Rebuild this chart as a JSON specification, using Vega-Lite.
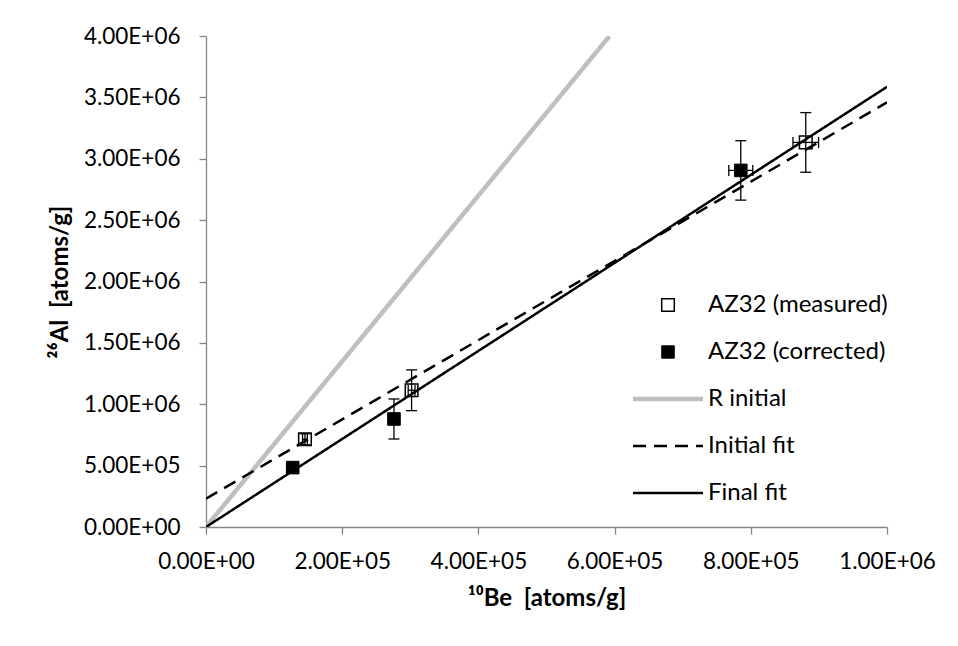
{
  "$schema": "https://vega.github.io/schema/vega-lite/v6.json",
  "width": 681,
  "height": 491,
  "autosize": {"type": "none"},
  "padding": {"left": 206, "top": 36, "right": 71, "bottom": 119},
  "background": "white",
  "config": {
    "view": {"stroke": null},
    "font": "Lato",
    "axis": {
      "grid": false,
      "domainColor": "#868686",
      "domainWidth": 1.3,
      "tickColor": "#868686",
      "tickWidth": 1.3,
      "tickSize": 7,
      "labelFont": "Lato",
      "labelFontSize": 22.5,
      "labelColor": "black",
      "labelOverlap": false,
      "labelFlush": false,
      "titleFont": "Lato",
      "titleFontSize": 24,
      "titleFontWeight": "bold",
      "titleColor": "black"
    },
    "legend": {
      "labelFont": "Lato",
      "labelFontSize": 24,
      "labelColor": "black",
      "labelLimit": 400
    }
  },
  "datasets": {
    "pts": [
      {"series": "AZ32 (measured)", "x": 145300, "y": 715000, "x_lo": 141800, "x_hi": 148800, "y_lo": 670000, "y_hi": 760000},
      {"series": "AZ32 (measured)", "x": 301900, "y": 1114000, "x_lo": 296900, "x_hi": 306900, "y_lo": 948000, "y_hi": 1280000},
      {"series": "AZ32 (measured)", "x": 880700, "y": 3133000, "x_lo": 861900, "x_hi": 899500, "y_lo": 2890000, "y_hi": 3376000},
      {"series": "AZ32 (corrected)", "x": 127300, "y": 484000, "x_lo": 123800, "x_hi": 130800, "y_lo": 444000, "y_hi": 524000},
      {"series": "AZ32 (corrected)", "x": 276000, "y": 880000, "x_lo": 271000, "x_hi": 281000, "y_lo": 717000, "y_hi": 1043000},
      {"series": "AZ32 (corrected)", "x": 785300, "y": 2905000, "x_lo": 767700, "x_hi": 802900, "y_lo": 2663000, "y_hi": 3147000}
    ],
    "lines": [
      {"series": "R initial", "x": 0, "y": 0},
      {"series": "R initial", "x": 592600, "y": 4000000},
      {"series": "Initial fit", "x": 0, "y": 231000},
      {"series": "Initial fit", "x": 1000000, "y": 3459000},
      {"series": "Final fit", "x": 0, "y": 0},
      {"series": "Final fit", "x": 1000000, "y": 3586000}
    ]
  },
  "layer": [
    {
      "data": {"name": "pts"},
      "mark": {"type": "point", "size": 49, "filled": true, "opacity": 1},
      "encoding": {
        "x": {
          "field": "x", "type": "quantitative",
          "scale": {"domain": [0, 1000000], "nice": false, "zero": false},
          "axis": {
            "values": [0, 200000, 400000, 600000, 800000, 1000000],
            "labelExpr": "replace(upper(format(datum.value, '.2e')), 'E+', 'E+0')",
            "labelPadding": 16,
            "titlePadding": 14,
            "title": "¹⁰Be\u00a0 [atoms/g]"
          }
        },
        "y": {
          "field": "y", "type": "quantitative",
          "scale": {"domain": [0, 4000000], "nice": false, "zero": false},
          "axis": {
            "values": [0, 500000, 1000000, 1500000, 2000000, 2500000, 3000000, 3500000, 4000000],
            "labelExpr": "replace(upper(format(datum.value, '.2e')), 'E+', 'E+0')",
            "labelPadding": 19,
            "titlePadding": 11,
            "title": "²⁶Al\u00a0 [atoms/g]"
          }
        },
        "shape": {
          "field": "series", "type": "nominal",
          "scale": {
            "domain": ["AZ32 (measured)", "AZ32 (corrected)", "R initial", "Initial fit", "Final fit"],
            "range": ["M-1.8,-1.8H1.8V1.8H-1.8Z", "M-1.8,-1.8H1.8V1.8H-1.8Z", "M-10,0H10", "M-10,0H10", "M-10,0H10"]
          },
          "legend": {
            "title": null,
            "orient": "none",
            "legendX": 450,
            "legendY": 257,
            "rowPadding": 23,
            "labelOffset": 28,
            "symbolSize": 49,
            "padding": 0
          }
        },
        "fill": {
          "field": "series", "type": "nominal",
          "scale": {
            "domain": ["AZ32 (measured)", "AZ32 (corrected)", "R initial", "Initial fit", "Final fit"],
            "range": ["white", "black", "transparent", "transparent", "transparent"]
          },
          "legend": {"title": null}
        },
        "stroke": {
          "field": "series", "type": "nominal",
          "scale": {
            "domain": ["AZ32 (measured)", "AZ32 (corrected)", "R initial", "Initial fit", "Final fit"],
            "range": ["black", "black", "#bfbfbf", "black", "black"]
          },
          "legend": {"title": null}
        },
        "strokeWidth": {
          "field": "series", "type": "nominal",
          "scale": {
            "type": "ordinal",
            "domain": ["AZ32 (measured)", "AZ32 (corrected)", "R initial", "Initial fit", "Final fit"],
            "range": [1.5, 1, 4.5, 2.5, 2.5]
          },
          "legend": {"title": null}
        }
      }
    },
    {
      "data": {"name": "pts"},
      "mark": {"type": "rule", "color": "black", "strokeWidth": 1.3},
      "encoding": {
        "x": {"field": "x", "type": "quantitative"},
        "y": {"field": "y_lo", "type": "quantitative"},
        "y2": {"field": "y_hi"}
      }
    },
    {
      "data": {"name": "pts"},
      "mark": {"type": "rule", "color": "black", "strokeWidth": 1.3},
      "encoding": {
        "y": {"field": "y", "type": "quantitative"},
        "x": {"field": "x_lo", "type": "quantitative"},
        "x2": {"field": "x_hi"}
      }
    },
    {
      "data": {"name": "pts"},
      "mark": {"type": "point", "shape": "M-1,0H1", "size": 121, "filled": false, "color": "black", "strokeWidth": 1.3, "opacity": 1},
      "encoding": {
        "x": {"field": "x", "type": "quantitative"},
        "y": {"field": "y_lo", "type": "quantitative"}
      }
    },
    {
      "data": {"name": "pts"},
      "mark": {"type": "point", "shape": "M-1,0H1", "size": 121, "filled": false, "color": "black", "strokeWidth": 1.3, "opacity": 1},
      "encoding": {
        "x": {"field": "x", "type": "quantitative"},
        "y": {"field": "y_hi", "type": "quantitative"}
      }
    },
    {
      "data": {"name": "pts"},
      "mark": {"type": "point", "shape": "M0,-1V1", "size": 121, "filled": false, "color": "black", "strokeWidth": 1.3, "opacity": 1},
      "encoding": {
        "x": {"field": "x_lo", "type": "quantitative"},
        "y": {"field": "y", "type": "quantitative"}
      }
    },
    {
      "data": {"name": "pts"},
      "mark": {"type": "point", "shape": "M0,-1V1", "size": 121, "filled": false, "color": "black", "strokeWidth": 1.3, "opacity": 1},
      "encoding": {
        "x": {"field": "x_hi", "type": "quantitative"},
        "y": {"field": "y", "type": "quantitative"}
      }
    },
    {
      "data": {"name": "lines"},
      "mark": {"type": "line", "clip": true},
      "encoding": {
        "x": {"field": "x", "type": "quantitative"},
        "y": {"field": "y", "type": "quantitative"},
        "stroke": {"field": "series", "type": "nominal", "legend": {"title": null}},
        "strokeWidth": {
          "field": "series", "type": "nominal",
          "scale": {
            "type": "ordinal",
            "domain": ["AZ32 (measured)", "AZ32 (corrected)", "R initial", "Initial fit", "Final fit"],
            "range": [1.5, 1, 4.5, 2.5, 2.5]
          },
          "legend": {"title": null}
        },
        "strokeDash": {
          "field": "series", "type": "nominal",
          "scale": {
            "domain": ["AZ32 (measured)", "AZ32 (corrected)", "R initial", "Initial fit", "Final fit"],
            "range": [[1, 0], [1, 0], [1, 0], [13, 8], [1, 0]]
          },
          "legend": {"title": null}
        }
      }
    }
  ]
}
